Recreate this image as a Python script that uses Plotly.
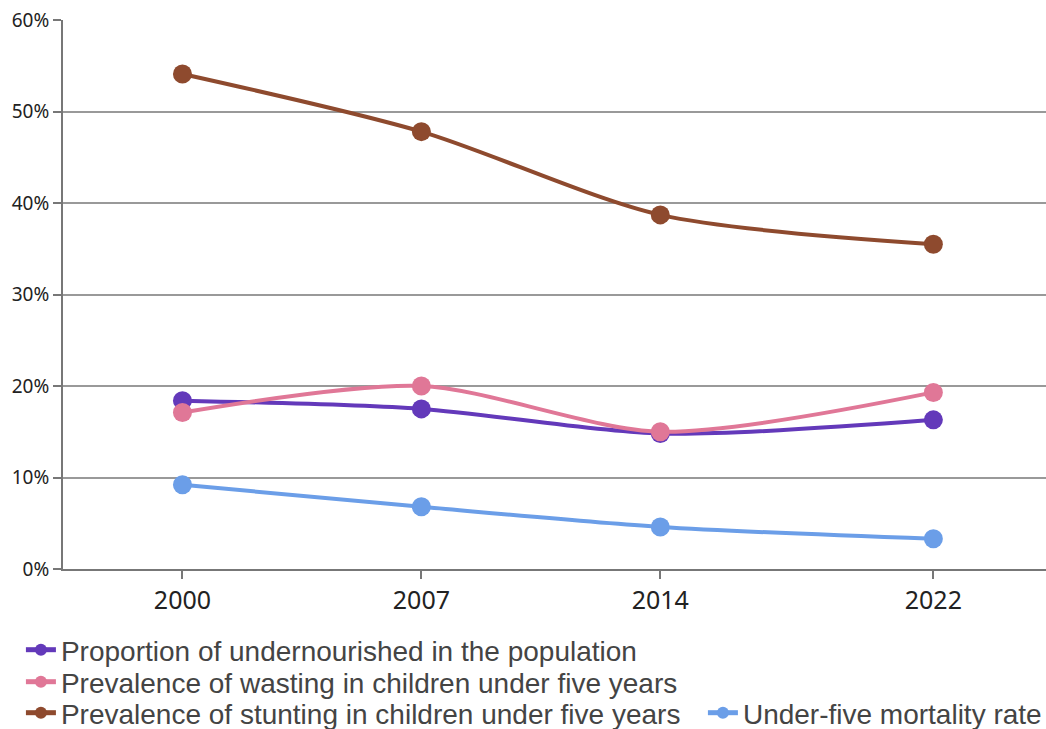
import plotly.graph_objects as go

years = [2000, 2007, 2014, 2022]
undernourished = [18.4, 17.5, 14.8, 16.3]
wasting = [17.1, 20.0, 15.0, 19.3]
stunting = [54.1, 47.8, 38.7, 35.5]
mortality = [9.2, 6.8, 4.6, 3.3]

names = [
    "Proportion of undernourished in the population",
    "Prevalence of wasting in children under five years",
    "Prevalence of stunting in children under five years",
    "Under-five mortality rate",
]
series = [undernourished, wasting, stunting, mortality]
colors = ["#6339BA", "#E07797", "#8E4A2E", "#6B9EE8"]
legend_ids = ["legend", "legend2", "legend3", "legend4"]

fig = go.Figure()
for name, vals, col, lg in zip(names, series, colors, legend_ids):
    fig.add_trace(go.Scatter(
        x=years, y=vals, name=name, mode="lines+markers",
        line=dict(color=col, width=4, shape="spline", smoothing=0.8),
        marker=dict(color=col, size=19),
        legend=lg,
    ))

legend_font = dict(family="Liberation Sans, Arial", size=28, color="#444444")


def legend_box(xc, yc):
    return dict(
        orientation="v", xref="container", yref="container",
        x=xc, xanchor="left", y=yc, yanchor="middle",
        font=legend_font, itemwidth=30, itemsizing="constant",
        tracegroupgap=0, bgcolor="rgba(0,0,0,0)",
    )


fig.update_layout(
    width=1046, height=729,
    margin=dict(l=63, r=0, t=20, b=160, autoexpand=False),
    plot_bgcolor="white", paper_bgcolor="white",
    showlegend=True,
    legend=legend_box(0.020, (729 - 650) / 729),
    legend2=legend_box(0.020, (729 - 682) / 729),
    legend3=legend_box(0.020, (729 - 713) / 729),
    legend4=legend_box(0.672, (729 - 713) / 729),
    xaxis=dict(
        range=[1996.5, 2025.3], tickvals=years, ticktext=[str(y) for y in years],
        showgrid=False, showline=True, linecolor="#777777", linewidth=2,
        ticks="outside", ticklen=8, tickcolor="#777777", tickwidth=2,
        tickfont=dict(family="Noto Sans, Open Sans", size=25, color="#222222"),
        zeroline=False,
    ),
    yaxis=dict(
        range=[0, 60], tickvals=[0, 10, 20, 30, 40, 50, 60],
        ticktext=["0%", "10%", "20%", "30%", "40%", "50%", "60%"],
        showgrid=True, gridcolor="#999999", gridwidth=2,
        showline=True, linecolor="#777777", linewidth=2,
        ticks="outside", ticklen=8, tickcolor="#777777", tickwidth=2,
        tickfont=dict(family="Noto Sans, Open Sans", size=19, color="#222222"),
        zeroline=False,
    ),
)

fig.write_html("out.html", config={"displayModeBar": False},
               post_script="document.body.style.margin='0';")
